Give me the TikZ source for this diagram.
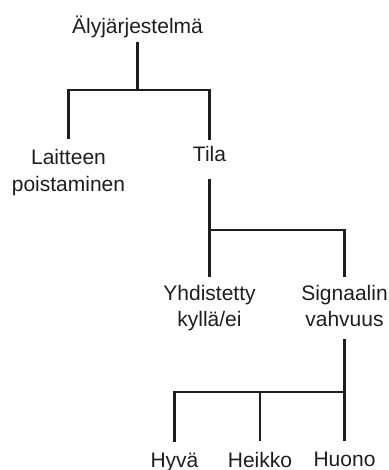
\documentclass[tikz,border=0pt]{standalone}
\usepackage{fontspec}
\setmainfont{Liberation Sans}
\definecolor{treeInk}{RGB}{30,30,30}

\begin{document}
\begin{tikzpicture}[
  x=1pt, y=-1pt,
  every node/.style={font=\fontsize{21}{26.7}\selectfont, text=treeInk},
  term/.style={
    inner sep=0pt,
    anchor=base,
    align=center
  },
  branch/.style={draw=treeInk, line width=2.6pt}
]
  \useasboundingbox (0,0) rectangle (388,470);

  % labels (two-line ones sit on their last baseline)
  \node[term] (root) at (137.5,33.3) {Älyjärjestelmä};
  \node[term] (laite) at (68.5,191.7) {Laitteen\\poistaminen};
  \node[term] (tila) at (209.5,161.7) {Tila};
  \node[term] (yhd) at (209.5,326.7) {Yhdistetty\\kyllä/ei};
  \node[term] (sig) at (344.5,326.7) {Signaalin\\vahvuus};
  \node[term] (hyva) at (174.5,467) {Hyvä};
  \node[term] (heikko) at (260,467) {Heikko};
  \node[term] (huono) at (344.5,466) {Huono};

  \coordinate (f1) at (137.5,90);
  \coordinate (f2) at (209.5,230);
  \coordinate (f3) at (344.5,392);

  \draw[branch] ([yshift=-4pt]root.south) -- (f1);
  \draw[branch] ([yshift=10.5pt]laite.north) |- (f1) -| ([yshift=6.7pt]tila.north);
  \draw[branch] ([yshift=-17.3pt]tila.south) -- (f2) -- ([yshift=8pt]yhd.north);
  \draw[branch] (f2) -| ([yshift=8pt]sig.north);
  \draw[branch] ([yshift=-11.6pt]sig.south) -- (f3) -- ([yshift=10.3pt]huono.north);
  \draw[branch] (f3) -| ([yshift=10.3pt]hyva.north);
  \draw[branch] (heikko.north |- f3) -- ([yshift=10.3pt]heikko.north);
\end{tikzpicture}
\end{document}
